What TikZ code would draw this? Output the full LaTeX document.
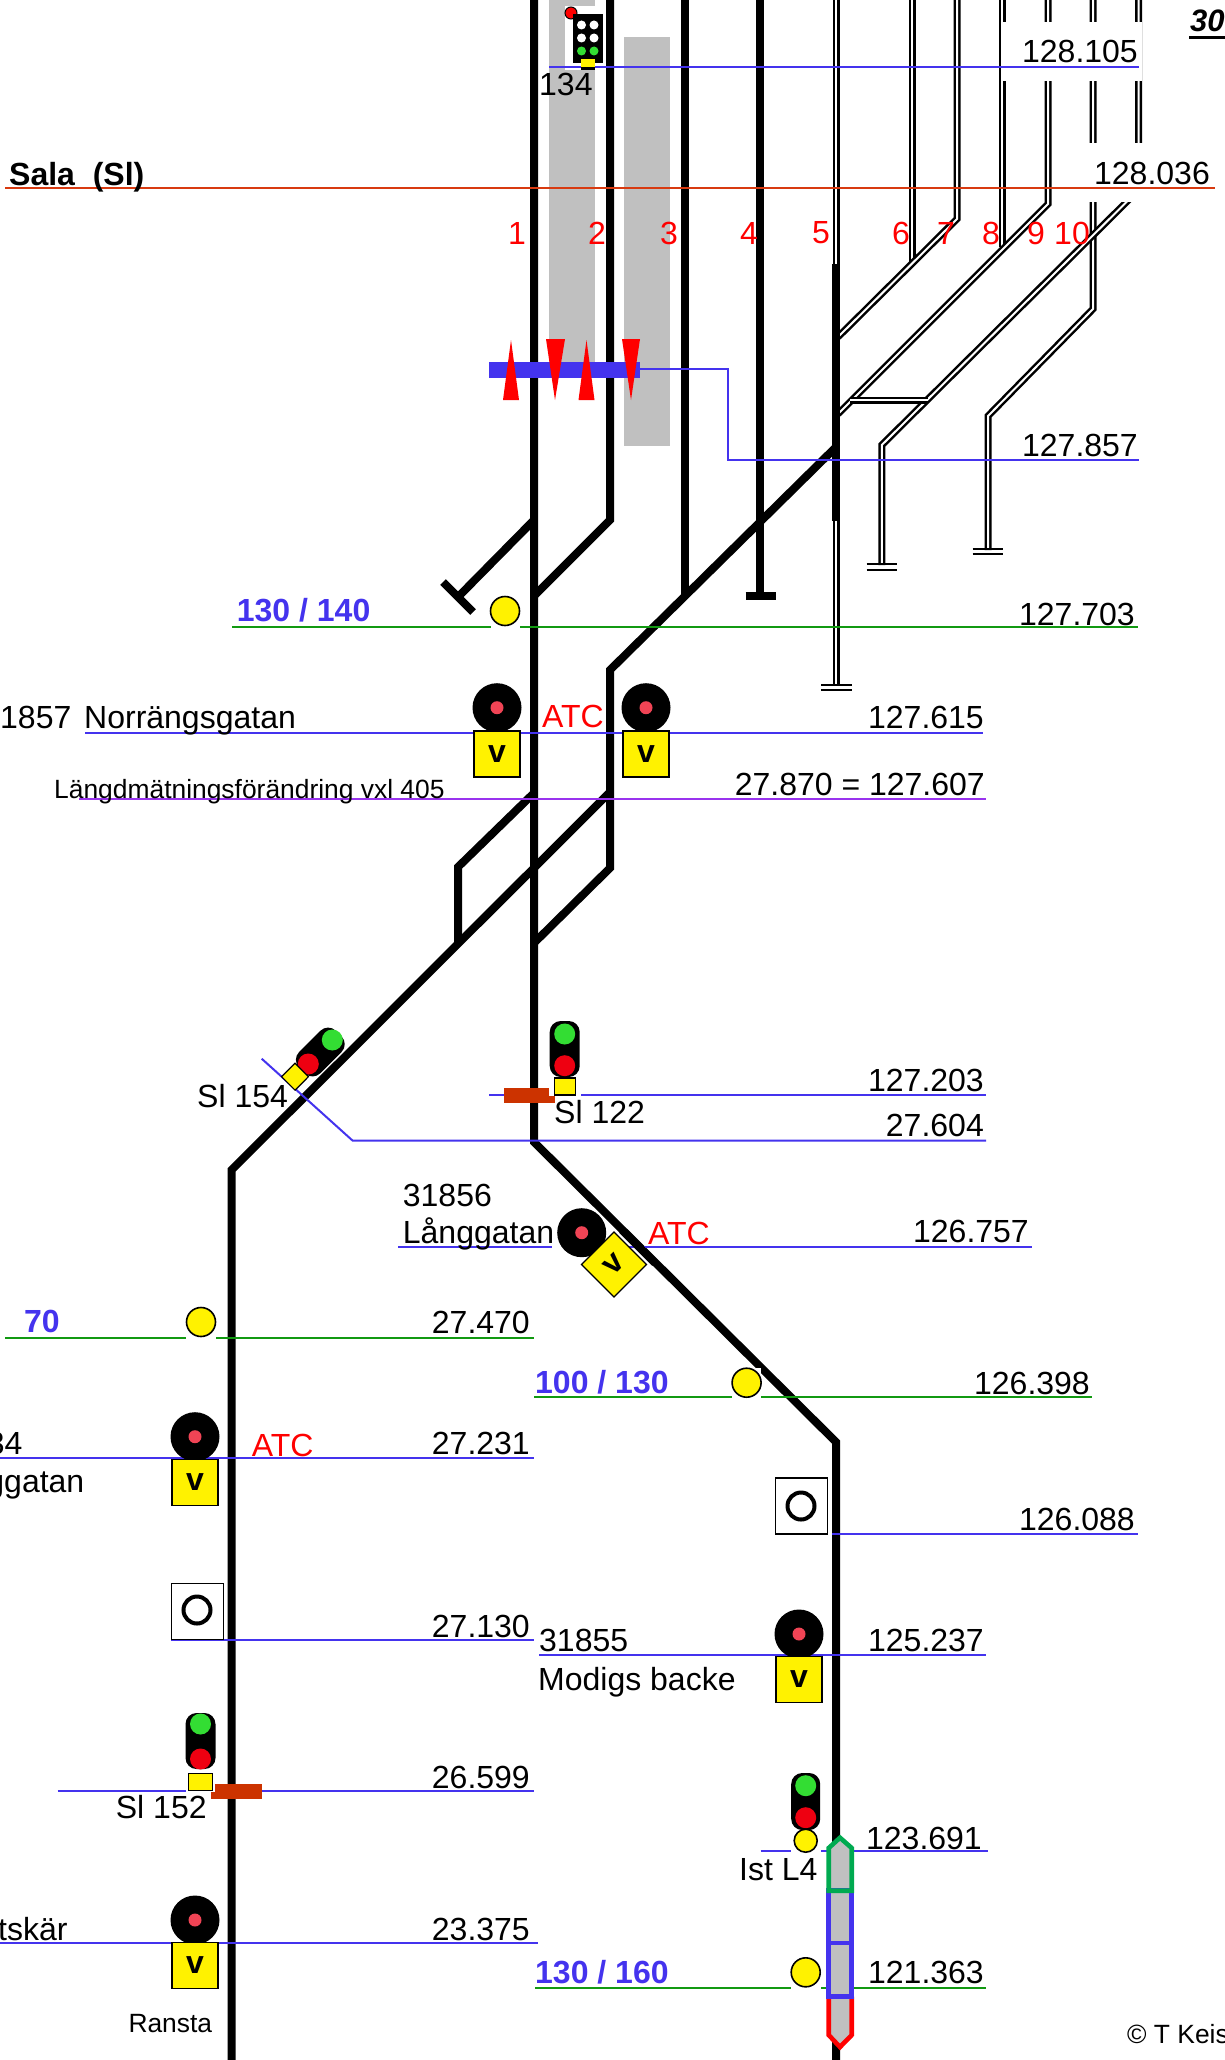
\documentclass[tikz,border=0pt]{standalone}
\usepackage{fontspec}
\setmainfont{Liberation Sans}
\usepackage{xcolor}
\usepackage{tikz}
\definecolor{kmblue}{HTML}{4433EE}
\definecolor{kmgreen}{HTML}{119911}
\definecolor{kmpurple}{HTML}{9933EE}
\definecolor{kmorange}{HTML}{D83A10}
\definecolor{barred}{HTML}{CC3300}
\definecolor{platgrey}{HTML}{C0C0C0}
\definecolor{lampgreen}{HTML}{33DD33}
\definecolor{lampred}{HTML}{EE0011}
\definecolor{headred}{HTML}{F04455}
\tikzset{
	thicktrack/.style={line width=8pt,draw=black},
	doubletrack/.style={line width=2.5pt,draw=black,double=white,double distance=2pt},
	kmline/.style={line width=2pt,draw=kmblue},
	greenline/.style={line width=2pt,draw=kmgreen},
	kmlabel/.style={anchor=base east,inner sep=0pt,font=\fontsize{32}{36}\selectfont},
	namelabel/.style={anchor=base west,inner sep=0pt,font=\fontsize{32}{36}\selectfont},
	smalllabel/.style={anchor=base west,inner sep=0pt,font=\fontsize{26.4}{30}\selectfont},
	speedlabel/.style={anchor=base west,inner sep=0pt,text=kmblue,font=\fontsize{32}{36}\selectfont\bfseries},
	tracknum/.style={inner sep=0pt,text=red,font=\fontsize{32}{36}\selectfont},
	atclabel/.style={anchor=base west,inner sep=0pt,text=red,font=\fontsize{32}{36}\selectfont},
	sighead/.style={circle,fill=black,inner sep=0pt,minimum size=49pt},
	headlamp/.style={circle,fill=headred,inner sep=0pt,minimum size=13pt},
	vbox/.style={rectangle,draw=black,line width=1.2pt,fill=yellow,inner sep=0pt,minimum size=46pt,font=\fontsize{32}{36}\selectfont\bfseries},
	sigbody/.style={rectangle,rounded corners=11pt,fill=black,inner sep=0pt,minimum width=30pt,minimum height=56pt},
	lamp/.style={circle,inner sep=0pt,minimum size=21pt},
	yellowbox/.style={rectangle,draw=black,line width=1.2pt,fill=yellow,inner sep=0pt,minimum width=21pt,minimum height=17pt},
	yellowdot/.style={circle,draw=black,line width=1.6pt,fill=yellow,inner sep=0pt,minimum size=29pt},
	osign/.style={rectangle,draw=black,line width=1.4pt,fill=white,inner sep=0pt,minimum width=52pt,minimum height=56pt},
	oring/.style={circle,draw=black,line width=4pt,inner sep=0pt,minimum size=27pt},
	whitelamp/.style={circle,fill=white,inner sep=0pt,minimum size=9pt},
	smallgreen/.style={circle,fill=lampgreen,inner sep=0pt,minimum size=9pt},
	platpart/.style={line width=4.6pt,miter limit=10}
}
\begin{document}
\begin{tikzpicture}[x=1pt,y=-1pt]
	\useasboundingbox (0,0) rectangle (1225,2060);

	\fill[platgrey] (549,0) rectangle (595,362);
	\fill[platgrey] (624,37) rectangle (670,446);

	\coordinate (T1a) at (534,0);
	\coordinate (T1b) at (534,1142);
	\coordinate (T1c) at (836,1442);
	\coordinate (T1d) at (836,2060);
	\coordinate (T2a) at (610,0);
	\coordinate (T2b) at (610,520);
	\coordinate (T2c) at (534,596);
	\coordinate (T3a) at (685,0);
	\coordinate (T3b) at (685,598);
	\coordinate (T4a) at (760.4,0);
	\coordinate (T4b) at (760.4,596);
	\coordinate (T5a) at (836.4,0);
	\coordinate (T5b) at (836.4,264);
	\coordinate (T5c) at (836.4,521);
	\coordinate (T5d) at (836.4,686);
	\coordinate (T6a) at (912,0);
	\coordinate (T6b) at (912,263);
	\coordinate (T7a) at (957,0);
	\coordinate (T7b) at (957,219);
	\coordinate (T8a) at (1002,0);
	\coordinate (T8b) at (1002,247);
	\coordinate (T9a) at (1048,0);
	\coordinate (T9b) at (1048,204);
	\coordinate (T10a) at (1093,0);
	\coordinate (T10b) at (1093,309);
	\coordinate (T10c) at (988,416);
	\coordinate (T10d) at (988,550);
	\coordinate (T11a) at (1138.6,0);
	\coordinate (T11b) at (1138.6,190);
	\coordinate (Da) at (838,337);
	\coordinate (Db) at (838,414);
	\coordinate (Dc) at (881.8,445);
	\coordinate (Dd) at (881.8,565);
	\coordinate (Xa) at (850,400);
	\coordinate (Xb) at (928,400);
	\coordinate (Ya) at (836,447);
	\coordinate (Yb) at (610,670);
	\coordinate (Yc) at (610,868);
	\coordinate (Yd) at (534,943);
	\coordinate (Za) at (609,793);
	\coordinate (Zb) at (231.5,1170);
	\coordinate (Zc) at (231.5,2060);
	\coordinate (Wa) at (534,793);
	\coordinate (Wb) at (458,867);
	\coordinate (Wc) at (458,943);
	\coordinate (Sa) at (534,520);
	\coordinate (Sb) at (460,595);
	\coordinate (Sc) at (443,582);
	\coordinate (Sd) at (473,612);
	\coordinate (Ra) at (622,1230);
	\coordinate (Rb) at (655,1263);

	\draw[doubletrack] (T5a) -- (T5b);
	\draw[doubletrack] (T5c) -- (T5d);
	\draw[doubletrack] (T6a) -- (T6b);
	\draw[doubletrack] (T7a) -- (T7b) -- (Da);
	\draw[doubletrack] (T8a) -- (T8b);
	\draw[doubletrack] (T9a) -- (T9b) -- (Db);
	\draw[doubletrack] (T10a) -- (T10b) -- (T10c) -- (T10d);
	\draw[doubletrack] (T11a) -- (T11b) -- (Dc) -- (Dd);
	\draw[doubletrack] (Xa) -- (Xb);
	\draw[line width=2pt] (821,685) -- (852,685) (821,690) -- (852,690);
	\draw[line width=2pt] (866.5,564) -- (897,564) (866.5,569.5) -- (897,569.5);
	\draw[line width=2pt] (972.5,549) -- (1003,549) (972.5,554) -- (1003,554);

	\draw[thicktrack] (T1a) -- (T1b) -- (T1c) -- (T1d);
	\draw[thicktrack] (T2a) -- (T2b) -- (T2c);
	\draw[thicktrack] (T3a) -- (T3b);
	\draw[thicktrack] (T4a) -- (T4b);
	\draw[thicktrack] (T5b) -- (T5c);
	\draw[thicktrack] (Ya) -- (Yb) -- (Yc) -- (Yd);
	\draw[thicktrack] (Za) -- (Zb) -- (Zc);
	\draw[thicktrack] (Wa) -- (Wb) -- (Wc);
	\draw[thicktrack] (Sa) -- (Sb);
	\draw[thicktrack] (Sc) -- (Sd);
	\draw[thicktrack] (745.7,596) -- (776,596);

	\fill[white] (1003,22) rectangle (1142,81);
	\fill[white] (1086,143) rectangle (1216,202);
	\fill[white] (565,6) rectangle (603,70);

	\draw[kmline] (549,67.3) -- (1138.6,67.3);
	\draw[line width=2pt,draw=kmorange] (5,188) -- (1215,188);
	\draw[kmline] (640,369) -- (728,369) -- (728,460) -- (1138.6,460);
	\draw[greenline] (232,626.7) -- (1138,626.7);
	\draw[kmline] (85,732.7) -- (983,732.7);
	\draw[line width=2pt,draw=kmpurple] (79,799.3) -- (986,799.3);
	\draw[kmline] (489,1095.3) -- (986,1095.3);
	\draw[kmline] (261.7,1058.7) -- (352.7,1140.7) -- (986,1140.7);
	\draw[kmline] (398,1246.7) -- (1032,1246.7);
	\draw[greenline] (5,1337.7) -- (534,1337.7);
	\draw[greenline] (534,1397) -- (1092,1397);
	\draw[kmline] (0,1458) -- (534,1458);
	\draw[kmline] (832,1534) -- (1138,1534);
	\draw[kmline] (171,1639.7) -- (534,1639.7);
	\draw[kmline] (539,1655) -- (986,1655);
	\draw[kmline] (57.7,1791) -- (534,1791);
	\draw[kmline] (760.7,1851.3) -- (987.7,1851.3);
	\draw[kmline] (0,1942.7) -- (538,1942.7);
	\draw[greenline] (535,1987.7) -- (985.7,1987.7);

	\node (lnum) at (402.7,1206) [namelabel] {31856};
	\node (lname) at (402.7,1243) [namelabel] {Långgatan};

	\fill[kmblue] (488.5,362) rectangle (640,378);
	\fill[red] (503,400) -- (511,340) -- (519,400) -- cycle;
	\fill[red] (546,339) -- (565,339) -- (555,400) -- cycle;
	\fill[red] (578.5,400) -- (586.5,340) -- (594.5,400) -- cycle;
	\fill[red] (622,339) -- (640,339) -- (631,400) -- cycle;

	\fill[barred] (504,1087.7) rectangle (555,1103.3);
	\fill[barred] (210.7,1783.5) rectangle (261.7,1799);

	\fill[white] (491,596) rectangle (520,628);
	\fill[white] (186,1305) rectangle (216,1339);
	\fill[white] (732,1368) rectangle (761,1398);
	\fill[white] (791,1957) rectangle (820.5,1989);
	\fill[white] (791,1830) rectangle (820.5,1853);
	\fill[white] (549,1020) rectangle (581,1096);
	\fill[white] (186,1708) rectangle (215,1791.8);
	\fill[white] (552,1207) -- (590,1207) -- (606,1223) -- (606,1258) -- (552,1258) -- cycle;
	\draw[thicktrack] (Ra) -- (Rb);

	\fill[platgrey] (840,1837.7) -- (851.7,1848) -- (851.7,2035) -- (840,2047) -- (828.7,2035) -- (828.7,1848) -- cycle;
	\draw[platpart,draw=red] (828.7,1996.7) -- (828.7,2035) -- (840,2047) -- (851.7,2035) -- (851.7,1996.7);
	\draw[platpart,draw=kmblue] (828.7,1890.7) rectangle (851.7,1943);
	\draw[platpart,draw=kmblue] (828.7,1943) rectangle (851.7,1996.7);
	\draw[platpart,draw={rgb,255:red,0;green,170;blue,80}] (828.7,1890.7) -- (828.7,1848) -- (840,1837.7) -- (851.7,1848) -- (851.7,1890.7) -- cycle;

	\node (sig134red) at (571,13) [circle,fill=red,draw=black,line width=1pt,inner sep=0pt,minimum size=12pt] {};
	\node (sig134box) at (587.8,38.5) [rectangle,fill=black,inner sep=0pt,minimum width=30.5pt,minimum height=49pt] {};
	\node (sig134a) at (581.5,25) [whitelamp] {};
	\node (sig134b) at (594,25) [whitelamp] {};
	\node (sig134c) at (581.5,38) [whitelamp] {};
	\node (sig134d) at (594,38) [whitelamp] {};
	\node (sig134e) at (581.5,51) [smallgreen] {};
	\node (sig134f) at (594,51) [smallgreen] {};
	\fill[black] (580.5,63) rectangle (595,70.5);
	\node (sig134y) at (587.8,63) [rectangle,fill=yellow,inner sep=0pt,minimum width=14.5pt,minimum height=8pt] {};

	\node (dot130) at (505,611) [yellowdot] {};
	\node (dot70) at (201,1322) [yellowdot] {};
	\node (dot100) at (746.6,1382.7) [yellowdot] {};
	\node (dot160) at (805.7,1972.3) [yellowdot] {};

	\node (headNa) at (497,707.7) [sighead] {};
	\node at (headNa) [headlamp] {};
	\node (vNa) at (497,754) [vbox] {v};
	\node (headNb) at (646,707.7) [sighead] {};
	\node at (headNb) [headlamp] {};
	\node (vNb) at (646,754) [vbox] {v};
	\node (headL) at (581.7,1232.7) [sighead] {};
	\node at (headL) [headlamp] {};
	\node (vL) at (614,1264.5) [vbox,rotate=45] {v};
	\node (headG) at (195,1436.7) [sighead] {};
	\node at (headG) [headlamp] {};
	\node (vG) at (195,1482.5) [vbox] {v};
	\node (headM) at (799,1634) [sighead] {};
	\node at (headM) [headlamp] {};
	\node (vM) at (799,1679.5) [vbox] {v};
	\node (headR) at (195,1920) [sighead] {};
	\node at (headR) [headlamp] {};
	\node (vR) at (195,1965.5) [vbox] {v};

	\node (sig122) at (564.7,1049) [sigbody] {};
	\node (sig122g) at (564.7,1034) [lamp,fill=lampgreen] {};
	\node (sig122r) at (564.7,1065.7) [lamp,fill=lampred] {};
	\node (sig122y) at (564.7,1086.5) [yellowbox] {};
	\node (sig152) at (200.5,1741) [sigbody] {};
	\node (sig152g) at (200.5,1724) [lamp,fill=lampgreen] {};
	\node (sig152r) at (200.5,1759) [lamp,fill=lampred] {};
	\node (sig152y) at (200.5,1782) [yellowbox,minimum width=24pt] {};
	\node (sig154) at (320.3,1052) [sigbody,rotate=-45,minimum height=52pt] {};
	\node (sig154g) at (332.3,1040) [lamp,fill=lampgreen] {};
	\node (sig154r) at (308.3,1064) [lamp,fill=lampred] {};
	\node (sig154y) at (295,1076.7) [yellowbox,rotate=-45,minimum width=19pt,minimum height=19pt] {};
	\node (sigL4) at (805.7,1801.5) [sigbody,minimum width=29pt,minimum height=57pt] {};
	\node (sigL4g) at (805.7,1785.7) [lamp,fill=lampgreen] {};
	\node (sigL4r) at (805.7,1817.7) [lamp,fill=lampred] {};
	\node (sigL4y) at (805.7,1840.7) [yellowdot,minimum size=23pt] {};

	\node (signA) at (197.3,1611.5) [osign] {};
	\node (ringA) at (197,1610) [oring] {};
	\node (signB) at (801.5,1506) [osign] {};
	\node (ringB) at (801,1506) [oring] {};

	\node (num1) at (517,233) [tracknum] {1};
	\node (num2) at (597,233) [tracknum] {2};
	\node (num3) at (669,233) [tracknum] {3};
	\node (num4) at (749,233) [tracknum] {4};
	\node (num5) at (821,233) [tracknum] {5};
	\node (num6) at (901,233) [tracknum] {6};
	\node (num7) at (946,233) [tracknum] {7};
	\node (num8) at (991,233) [tracknum] {8};
	\node (num9) at (1036,233) [tracknum] {9};
	\node (num10) at (1072,233) [tracknum] {10};

	\node (km105) at (1138,63) [kmlabel] {128.105};
	\node (km036) at (1210,185) [kmlabel] {128.036};
	\node (km857) at (1138,456) [kmlabel] {127.857};
	\node (km703) at (1135,625) [kmlabel] {127.703};
	\node (km615) at (984,728) [kmlabel] {127.615};
	\node (km607) at (985,795) [kmlabel] {27.870 = 127.607};
	\node (km203) at (984,1091) [kmlabel] {127.203};
	\node (km604) at (984,1136) [kmlabel] {27.604};
	\node (km757) at (1029,1242) [kmlabel] {126.757};
	\node (km398) at (1090,1394) [kmlabel] {126.398};
	\node (km470) at (530,1333) [kmlabel] {27.470};
	\node (km231) at (530,1454) [kmlabel] {27.231};
	\node (km088) at (1135,1530) [kmlabel] {126.088};
	\node (km130) at (530,1637) [kmlabel] {27.130};
	\node (km237) at (984,1651) [kmlabel] {125.237};
	\node (km599) at (530,1788) [kmlabel] {26.599};
	\node (km691) at (982,1849) [kmlabel] {123.691};
	\node (km375) at (530,1940) [kmlabel] {23.375};
	\node (km363) at (984,1983) [kmlabel] {121.363};

	\node (sala) at (9,186) [namelabel,font=\fontsize{32}{36}\selectfont\bfseries] {Sala~~(Sl)};
	\node (top30) at (1190,32) [namelabel,font=\fontsize{31}{36}\selectfont\bfseries\itshape] {30};
	\draw[line width=3.3pt] (1189,37.6) -- (1225,37.6);
	\node (lab134) at (539,96) [namelabel] {134};
	\node (speedA) at (236.7,621.7) [speedlabel] {130 / 140};
	\node (norrnum) at (0,728) [namelabel] {1857};
	\node (norr) at (84,728) [namelabel] {Norrängsgatan};
	\node (atcA) at (542,727.7) [atclabel] {ATC};
	\node (vxl) at (54,798) [smalllabel] {Längdmätningsförändring vxl 405};
	\node (sl154) at (197,1107) [namelabel] {Sl 154};
	\node (sl122) at (554,1123) [namelabel] {Sl 122};
	\node (atcB) at (648,1244) [atclabel] {ATC};
	\node (speedB) at (24,1332) [speedlabel] {70};
	\node (speedC) at (535,1393) [speedlabel] {100 / 130};
	\node (gnum) at (22.7,1454) [kmlabel] {34};
	\node (gname) at (84.5,1492) [kmlabel] {ggatan};
	\node (atcC) at (251.7,1456.6) [atclabel] {ATC};
	\node (mnum) at (539,1651) [namelabel] {31855};
	\node (mname) at (538,1690) [namelabel] {Modigs backe};
	\node (sl152) at (115.7,1818) [namelabel] {Sl 152};
	\node (istl4) at (739,1880) [namelabel] {Ist L4};
	\node (rname) at (67.7,1940) [kmlabel] {tskär};
	\node (ransta) at (128.3,2032) [smalllabel] {Ransta};
	\node (speedD) at (535,1983) [speedlabel] {130 / 160};
	\node (copy) at (1127,2043) [smalllabel] {© T Keis};
\end{tikzpicture}
\end{document}
